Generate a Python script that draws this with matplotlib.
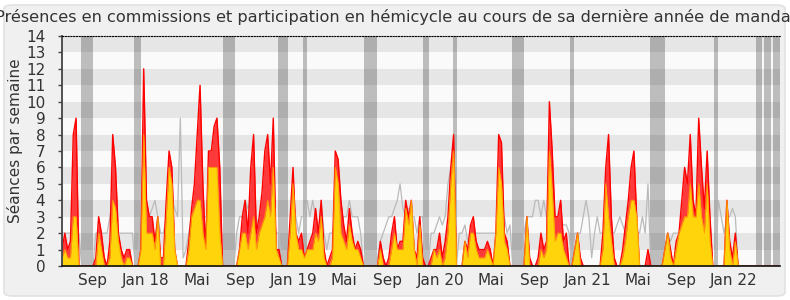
import matplotlib
matplotlib.use("Agg")
import matplotlib.pyplot as plt
from matplotlib.patches import FancyBboxPatch
import pandas as pd

# ---------------- data (weekly values) ----------------
start_week = "2017-06-05"
commission = [  # red area: total weekly sittings
    1, 2, 1, 1.5, 8, 9, 0, 0, 0, 0, 0, 0, 0.5, 3, 2, 0.5, 0, 1.5, 8, 6,
    2, 1, 0.5, 1, 1, 0, 0, 0, 1, 12, 4, 3, 3, 1.5, 3, 0.5, 0.5, 4, 7, 6,
    1, 0, 0, 0, 0, 1.5, 3.5, 5, 8, 11, 5, 1, 7, 7, 8.5, 9, 6, 0, 0, 0,
    0, 0, 0, 1, 3, 4, 2, 6, 8, 2, 3, 4.5, 7, 8, 5, 9, 1, 1, 0, 0,
    0, 3, 6, 2, 1.5, 2, 0.5, 1, 1.5, 2, 3.5, 2, 4, 1, 0, 0.5, 1, 7, 6.5, 4,
    2.5, 1.5, 3.5, 2, 1, 1.5, 1, 0, 0, 0, 0, 0, 0, 1.5, 0.5, 0, 0.5, 2, 3, 1,
    1.5, 1.5, 4, 3, 4, 1, 0.5, 3, 0.5, 0, 0, 0.5, 1, 1, 2, 0.5, 1.5, 3, 6, 8,
    0, 0, 0, 1.5, 1, 2.5, 3, 1.5, 1, 1, 1, 1.5, 1, 0, 2, 8, 7.5, 2, 1.5, 0,
    0, 0, 0, 0, 0, 3, 0.5, 0, 0, 0.5, 2, 1, 1.5, 10, 7, 3, 3, 4, 1.5, 2,
    0, 0, 1, 2, 0.5, 0, 0, 0, 0, 0, 0, 0, 2, 6, 8, 3, 0.5, 0, 0, 1,
    2.5, 4, 6, 7, 3, 0, 0, 0, 1, 0, 0, 0, 0, 0, 1, 2, 1, 0, 1.5, 2,
    4, 6, 5, 8, 4, 3, 9, 6, 3.5, 7, 3, 0, 0, 0, 0, 0, 4, 1.5, 0.5, 2,
    0, 0, 0, 0, 0, 0, 0, 0, 0, 0, 0, 0, 0, 0, 0,
]
hemicycle = [  # yellow area
    0.5, 1, 0.5, 0.5, 3, 3, 0, 0, 0, 0, 0, 0, 0, 2, 1, 0, 0, 0.5, 4, 3.5,
    1.5, 0.5, 0, 0.5, 0.5, 0, 0, 0, 1, 8, 2, 2, 2, 1, 3, 0, 0, 3, 6, 5,
    1, 0, 0, 0, 0, 1, 3, 3.5, 4, 4, 2, 1, 6, 6, 6, 6, 2, 0, 0, 0,
    0, 0, 0, 1, 2, 2, 1, 2, 3, 1, 2, 2.5, 3, 4, 3, 6, 1, 0.5, 0, 0,
    0, 2, 5, 2, 1, 1, 0.5, 1, 1, 1, 2, 1.5, 3, 0.5, 0, 0, 0.5, 6, 5, 2,
    1.5, 1, 2.5, 1.5, 1, 1, 0.5, 0, 0, 0, 0, 0, 0, 1, 0, 0, 0, 1, 2, 1,
    1, 1, 3.5, 2.5, 4, 1, 0, 2.5, 0, 0, 0, 0, 1, 0.5, 1, 0, 0.5, 2, 5, 7,
    0, 0, 0, 1.5, 0.5, 2, 2, 1, 0.5, 0.5, 0.5, 1, 0.5, 0, 2, 6, 5, 1.5, 1, 0,
    0, 0, 0, 0, 0, 3, 0, 0, 0, 0, 1, 0.5, 1, 7, 4.5, 1.5, 2, 2, 1, 0.5,
    0, 0, 1, 2, 0, 0, 0, 0, 0, 0, 0, 0, 1, 5, 3, 1.5, 0, 0, 0, 0.5,
    1.5, 3, 4, 4, 3, 0, 0, 0, 0, 0, 0, 0, 0, 0, 1, 2, 0.5, 0, 1, 2,
    2.5, 3, 3, 5, 3, 3, 5, 3, 2, 5, 1.5, 0, 0, 0, 0, 0, 4, 1, 0, 1.5,
    0, 0, 0, 0, 0, 0, 0, 0, 0, 0, 0, 0, 0, 0, 0,
]
median_line = [  # grey line
    2, 2, 2, 2, 2, 2, 2, 0, 0, 0, 0, 0, 2, 2, 2, 2, 2, 3, 4, 3,
    2, 2, 2, 2, 2, 2, 0, 0, 4, 3, 3, 3, 3.5, 4, 3, 2, 2, 3, 3, 4,
    3.5, 3, 9, 0.5, 1, 2, 3, 3, 3, 3, 3, 3, 3, 3, 3, 3, 3, 0, 0, 0,
    0, 0, 2, 3, 3, 4, 3.5, 4, 3, 3, 2, 3, 4, 3, 3, 3, 2, 2, 0, 0,
    0, 2, 3, 3, 2, 3, 3, 4, 3, 4, 3, 2, 4, 2, 1, 2, 2, 3, 3, 3,
    3, 3, 4, 3, 3, 3, 2, 0, 0, 0, 0, 0, 0.5, 1.5, 2, 2.5, 3, 3, 3.5, 4,
    5, 3.5, 3, 3.5, 3, 3, 2, 3, 3, 0, 0, 2, 2, 2.5, 3, 2.5, 3, 5, 6, 6,
    0, 2, 2, 2.5, 1.5, 2, 2, 2, 2, 2, 2, 2, 2, 2, 2, 3, 3, 3, 2, 2.5,
    0, 0, 0, 0, 2, 3, 3, 3, 4, 4, 3, 4, 3, 3, 3, 3, 2.5, 2.5, 2.5, 2.5,
    2, 0, 2, 2, 2, 3, 4, 3, 0.5, 2, 3, 2, 2, 2, 2, 2, 2, 2.5, 3, 2.5,
    2, 2, 2, 2, 2, 2, 3, 2, 5, 0, 0, 0, 0, 0, 1, 2, 1.5, 2, 2, 2,
    3, 3, 3, 4, 3, 3, 3, 3, 3, 3, 2, 0, 0, 4, 3, 2, 3, 3, 3.5, 3,
    0, 0, 0, 0, 0, 0, 0, 0, 0, 0, 0, 0, 0, 0, 0,
]
vacations = [
    ("2017-07-22", "2017-08-21"), ("2017-12-01", "2017-12-18"),
    ("2018-07-10", "2018-08-09"), ("2018-11-24", "2018-12-19"),
    ("2019-01-24", "2019-02-04"), ("2019-06-25", "2019-07-28"),
    ("2019-11-18", "2019-12-04"), ("2020-02-02", "2020-02-12"),
    ("2020-06-27", "2020-07-27"), ("2020-11-18", "2020-11-28"),
    ("2021-06-05", "2021-07-12"), ("2021-11-11", "2021-11-21"),
    ("2022-02-23", "2022-03-10"), ("2022-03-15", "2022-04-02"),
    ("2022-04-07", "2022-04-24"),
]
tick_dates = ["2017-08-21", "2017-12-31", "2018-05-05", "2018-08-23",
              "2019-01-01", "2019-05-06", "2019-08-22", "2020-01-02",
              "2020-05-05", "2020-08-22", "2020-12-31", "2021-05-07",
              "2021-08-23", "2021-12-31"]
tick_labels = ["Sep", "Jan 18", "Mai", "Sep", "Jan 19", "Mai", "Sep",
               "Jan 20", "Mai", "Sep", "Jan 21", "Mai", "Sep", "Jan 22"]
x_range = ("2017-06-05", "2022-04-24")
title = ("Présences en commissions et participation en hémicycle "
         "au cours de sa dernière année de mandat")
ylabel = "Séances par semaine"

# ---------------- figure ----------------
W, H = 790, 300
fig = plt.figure(figsize=(W / 100, H / 100), dpi=100, facecolor="white")
panel = FancyBboxPatch((4 / W, 4 / H), (W - 9) / W, (H - 9) / H,
                       boxstyle="round,pad=0,rounding_size=0.012",
                       transform=fig.transFigure, facecolor="#f0f0f0",
                       edgecolor="#e2e2e2", linewidth=1.2, zorder=-10)
fig.patches.append(panel)

ax = fig.add_axes([62 / W, 34 / H, 718 / W, 230 / H], zorder=5)
ax.set_facecolor("#fafafa")

dates = pd.date_range(start_week, periods=len(commission), freq="7D")

for k in range(1, 14, 2):
    ax.axhspan(k, k + 1, color="#e6e6e6", lw=0, zorder=0)
for a, b in vacations:
    ax.axvspan(pd.Timestamp(a), pd.Timestamp(b), color="black", alpha=0.245,
               lw=0, zorder=1)

ax.plot(dates, median_line, color="#bababa", lw=0.9, zorder=2)
ax.fill_between(dates, 0, commission, color="#ff3a3a", lw=0, zorder=3)
ax.plot(dates, commission, color="#ff0000", lw=1.0, zorder=4)
ax.fill_between(dates, 0, hemicycle, color="#ffd40a", lw=0, zorder=5)
ax.plot(dates, hemicycle, color="#ffa500", lw=0.8, alpha=0.8, zorder=6)

ax.set_xlim(pd.Timestamp(x_range[0]), pd.Timestamp(x_range[1]))
ax.set_ylim(0, 14)
ax.set_yticks(range(0, 15))
ax.set_xticks([pd.Timestamp(d) for d in tick_dates])
ax.set_xticklabels(tick_labels)

ax.spines["right"].set_visible(False)
ax.spines["top"].set_linestyle((0, (1, 1.5)))
ax.spines["top"].set_color("black")
ax.spines["top"].set_linewidth(0.8)
ax.spines["left"].set_color("#444444")
ax.spines["left"].set_linewidth(1.3)
ax.spines["bottom"].set_color("#111111")
ax.spines["bottom"].set_linewidth(1.2)
for sp in ax.spines.values():
    sp.set_zorder(10)

ax.tick_params(axis="x", length=0, pad=5, labelsize=11, labelcolor="#333333")
ax.tick_params(axis="y", length=3, width=1, color="#444444", pad=9,
               labelsize=11, labelcolor="#333333")

fig.text(396 / W, 1 - 17 / H, title, ha="center", va="center",
         fontsize=11.6, color="#333333")
fig.text(15 / W, 1 - 141 / H, ylabel, ha="center", va="center",
         rotation=90, fontsize=11, color="#333333")

fig.savefig("out.png", dpi=100, facecolor="white")
